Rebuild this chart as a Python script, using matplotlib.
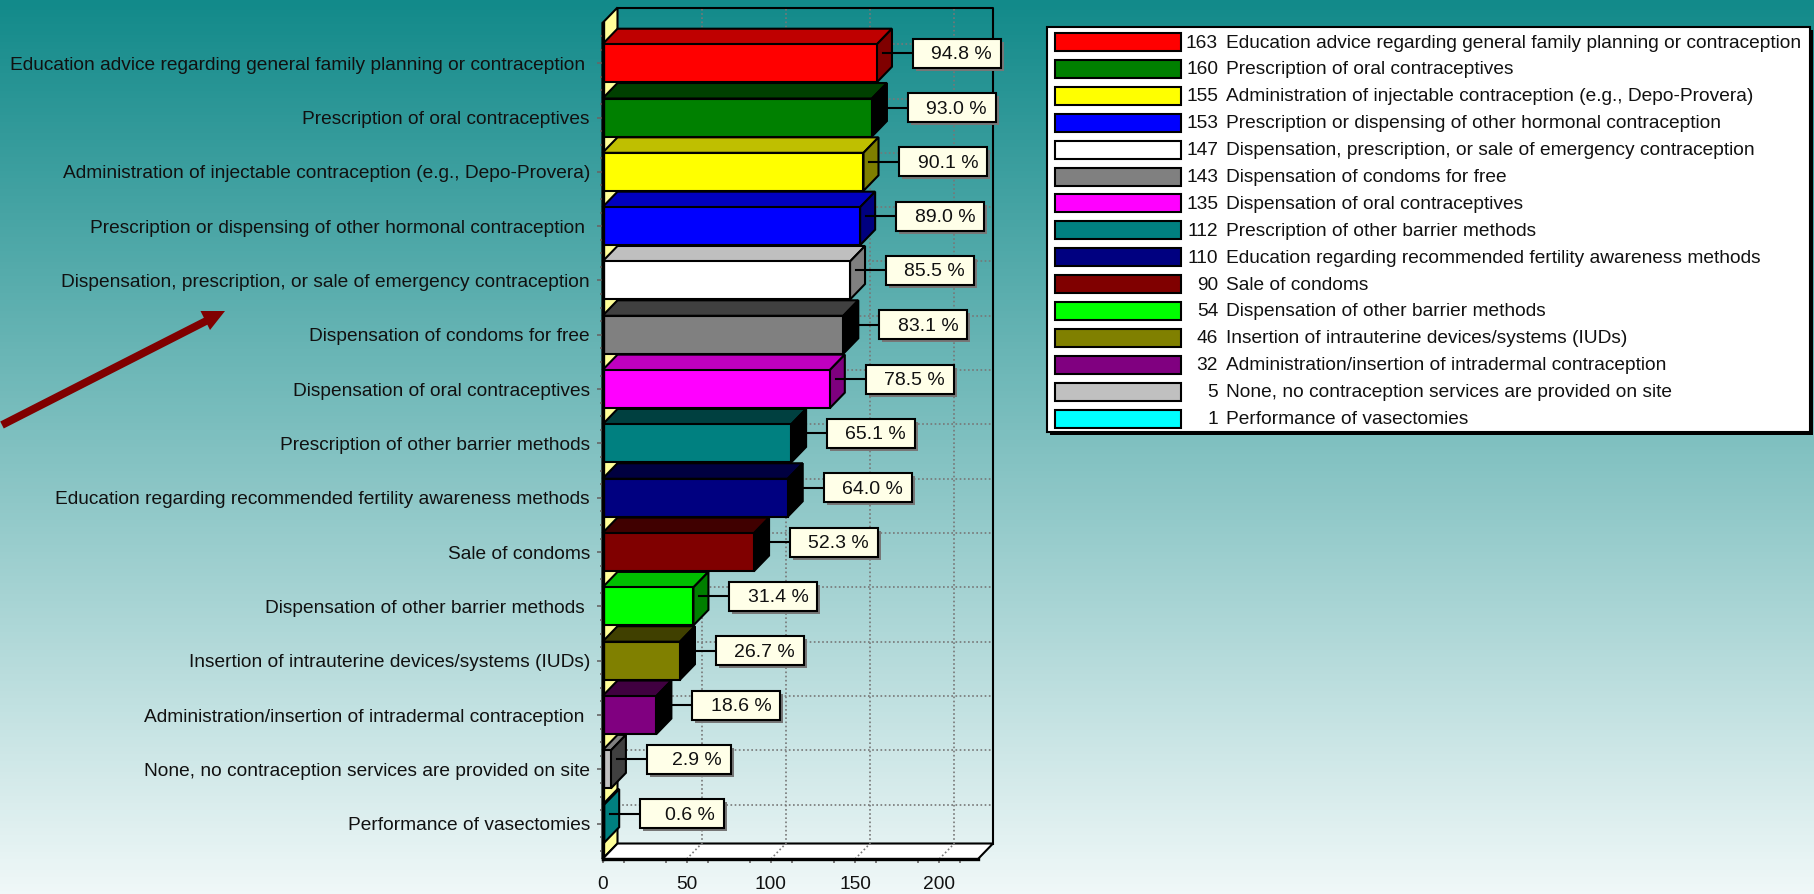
import numpy as np
import matplotlib
matplotlib.use("Agg")
import matplotlib.pyplot as plt
from matplotlib.patches import Rectangle

plt.rcParams['font.family'] = ['Liberation Sans', 'DejaVu Sans']

W, H = 1814, 894
FS = 13.8

categories = [
    "Education advice regarding general family planning or contraception ",
    "Prescription of oral contraceptives",
    "Administration of injectable contraception (e.g., Depo-Provera)",
    "Prescription or dispensing of other hormonal contraception ",
    "Dispensation, prescription, or sale of emergency contraception",
    "Dispensation of condoms for free",
    "Dispensation of oral contraceptives",
    "Prescription of other barrier methods",
    "Education regarding recommended fertility awareness methods",
    "Sale of condoms",
    "Dispensation of other barrier methods ",
    "Insertion of intrauterine devices/systems (IUDs)",
    "Administration/insertion of intradermal contraception ",
    "None, no contraception services are provided on site",
    "Performance of vasectomies",
]
counts = [163, 160, 155, 153, 147, 143, 135, 112, 110, 90, 54, 46, 32, 5, 1]
percents = [94.8, 93.0, 90.1, 89.0, 85.5, 83.1, 78.5, 65.1, 64.0, 52.3, 31.4, 26.7, 18.6, 2.9, 0.6]
colors = ["#FF0000", "#008000", "#FFFF00", "#0000FF", "#FFFFFF", "#808080", "#FF00FF", "#008080",
          "#000080", "#800000", "#00FF00", "#808000", "#800080", "#C0C0C0", "#00FFFF"]
x_ticks = [0, 50, 100, 150, 200]


def shade(hex_color, amount):
    # the chart darkens faces by a fixed step per channel
    rgb = [int(hex_color[i:i + 2], 16) for i in (1, 3, 5)]
    return tuple(max(c - amount, 0) / 255 for c in rgb)


fig = plt.figure(figsize=(W / 100, H / 100), dpi=100)

# background gradient, also used for the arrow
bg = fig.add_axes([0, 0, 1, 1], zorder=0)
grad = np.linspace(0, 1, 256)[:, None, None] * (np.array([240, 248, 248]) - np.array([18, 138, 138])) + np.array([18, 138, 138])
bg.imshow(grad / 255, extent=[0, W, H, 0], aspect="auto")
bg.set_xlim(0, W)
bg.set_ylim(H, 0)
bg.axis("off")
bg.plot([2, 212], [425, 318], color="#800000", lw=5.6, solid_capstyle="butt")
bg.fill([200.5, 225, 210], [311, 311, 330], color="#800000", lw=0)

# main axes is the front plane of the 3d box
left, right, top, bottom = 602.5, 978, 23, 859
ax = fig.add_axes([left / W, 1 - bottom / H, (right - left) / W, (bottom - top) / H], zorder=1)
ax.patch.set_alpha(0)
ax.set_xlim(0, 223)
ax.set_ylim(14.65, -0.74)
px_x = (right - left) / 223
px_y = (bottom - top) / (14.65 + 0.74)
dx = 15 / px_x
dy = 15.5 / px_y
bar_h = 38 / px_y
y0, y1 = 14.65, -0.74
xmax = 223
y = np.arange(len(categories))

# walls
ax.fill([0, dx, dx, 0], [y0, y0 - dy, y1 - dy, y1], facecolor="#FFFF99", edgecolor="black", lw=1.5, clip_on=False, zorder=1)
ax.fill([0, xmax, xmax + dx, dx], [y0, y0, y0 - dy, y0 - dy], facecolor="white", edgecolor="black", lw=1.5, clip_on=False, zorder=1)
ax.plot([dx, xmax + dx, xmax + dx], [y1 - dy, y1 - dy, y0 - dy], color="black", lw=1.5, clip_on=False, zorder=1)

# grid on back wall and floor
for t in x_ticks[1:]:
    ax.plot([t + dx, t + dx], [y0 - dy, y1 - dy], color="#777777", lw=1.2, ls=(0, (1, 1.5)), clip_on=False, zorder=1.5)
    ax.plot([t, t + dx], [y0, y0 - dy], color="#777777", lw=1.2, ls=(0, (1, 1.5)), clip_on=False, zorder=1.5)
for i in y:
    ax.plot([dx, xmax + dx], [i - bar_h / 2, i - bar_h / 2], color="#777777", lw=1.2, ls=(0, (1, 1.5)), clip_on=False, zorder=1.5)

# bars, top row first so lower ones sit over it
for i, (v, c) in enumerate(zip(counts, colors)):
    z = 2 + i * 0.01
    t, b = i - bar_h / 2, i + bar_h / 2
    ax.fill([0, v, v + dx, dx], [t, t, t - dy, t - dy], facecolor=shade(c, 64), edgecolor="black", lw=1.5, zorder=z, clip_on=False)
    ax.fill([v, v + dx, v + dx, v], [t, t - dy, b - dy, b], facecolor=shade(c, 128), edgecolor="black", lw=1.5, zorder=z, clip_on=False)
    ax.barh(i, v, height=bar_h, color=c, edgecolor="black", lw=1.5, zorder=z)

# value callouts
for i, (v, p) in enumerate(zip(counts, percents)):
    label = f"{p:.1f} %"
    bw = (88 if len(label) > 5 else 84) / px_x
    bh = 29 / px_y
    x_box = v + 36 / px_x
    y_mid = i - 10 / px_y
    ax.plot([v + 6 / px_x, x_box], [y_mid, y_mid], color="black", lw=1.5, zorder=3, clip_on=False)
    ax.add_patch(Rectangle((x_box + 3 / px_x, y_mid - bh / 2 + 3 / px_y), bw, bh, facecolor="#777777", edgecolor="none", zorder=3.1, clip_on=False))
    ax.add_patch(Rectangle((x_box, y_mid - bh / 2), bw, bh, facecolor="#FFFFE8", edgecolor="black", lw=1.5, zorder=3.2, clip_on=False))
    ax.text(x_box + bw - 9 / px_x, y_mid + 1.5 / px_y, label, ha="right", va="center", fontsize=14, color="#111111", zorder=3.3)

for s in ("top", "right"):
    ax.spines[s].set_visible(False)
for s in ("left", "bottom"):
    ax.spines[s].set_linewidth(2.4)
    ax.spines[s].set_zorder(4)
ax.set_yticks(y)
ax.set_yticklabels(categories, fontsize=FS, color="#111111")
ax.set_yticks(np.arange(-0.5, 14.6, 0.25), minor=True)
ax.set_xticks(x_ticks)
ax.set_xticklabels([str(t) for t in x_ticks], fontsize=FS, color="#111111")
ax.set_xticks(np.arange(12.5, 223, 25), minor=True)
ax.tick_params(axis="y", length=4, width=1.2, color="#666666", pad=5)
ax.tick_params(axis="y", which="minor", length=2, width=1.2, color="#666666")
ax.tick_params(axis="x", which="both", length=3, width=1.2, color="#666666", pad=9)

# legend box
lx0, lx1, ly0, ly1 = 1047, 1810, 27, 432
lg = fig.add_axes([lx0 / W, 1 - (ly1 + 4) / H, (lx1 + 4 - lx0) / W, (ly1 + 4 - ly0) / H], zorder=2)
lg.set_xlim(0, lx1 + 4 - lx0)
lg.set_ylim(ly1 + 4 - ly0, 0)
lg.axis("off")
lg.add_patch(Rectangle((3, 3), lx1 - lx0, ly1 - ly0, facecolor="black", edgecolor="none", clip_on=False))
lg.add_patch(Rectangle((0, 0), lx1 - lx0, ly1 - ly0, facecolor="white", edgecolor="black", lw=1.5, clip_on=False))
for i, (n, name, col) in enumerate(zip(counts, categories, colors)):
    ry = 15 + i * 26.9
    lg.add_patch(Rectangle((8, ry - 9), 126, 18, facecolor=col, edgecolor="black", lw=1.5))
    lg.text(171, ry + 1, str(n), ha="right", va="center", fontsize=FS, color="#111111")
    lg.text(179, ry + 1, name.strip(), ha="left", va="center", fontsize=FS, color="#111111")

fig.savefig("out.png", dpi=100)
